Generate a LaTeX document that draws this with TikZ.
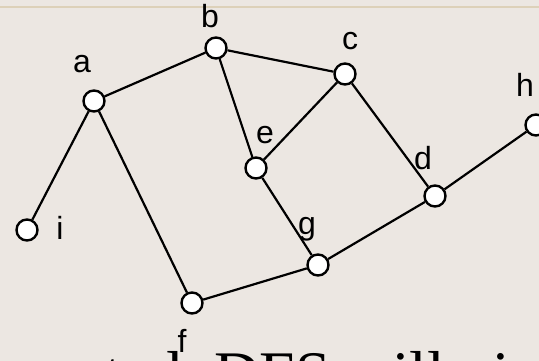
\documentclass[tikz,border=0pt]{standalone}
\usepackage{fontspec}
\setmainfont{Liberation Serif}
\newfontfamily\labelfont{Liberation Sans}
\usepackage{xcolor}
\usetikzlibrary{positioning}
\definecolor{Slide}{HTML}{ECE7E2}
\definecolor{Rule}{HTML}{DDD1B9}

\begin{document}
\begin{tikzpicture}[
  x=1pt,y=-1pt,
  vertex/.style={circle,draw=black,fill=white,line width=2.4pt,minimum size=21pt,inner sep=0pt},
  vlabel/.style={anchor=base,inner sep=0pt,font=\labelfont\fontsize{32}{32}\selectfont},
  link/.style={line width=2.2pt,draw=black}
]
\useasboundingbox (0,0) rectangle (539,361);
\clip (0,0) rectangle (539,361);
\fill[Slide] (0,0) rectangle (539,361);
\draw[Rule,line width=2pt] (0,7) -- (539,7);
% vertices
\node[vertex] (a) at (94,101) {};
\node[vertex] (b) at (216,48) {};
\node[vertex] (c) at (345,74) {};
\node[vertex] (d) at (435,196) {};
\node[vertex] (e) at (256,168) {};
\node[vertex] (f) at (192,303) {};
\node[vertex] (g) at (318,265) {};
\node[vertex] (h) at (536,125) {};
\node[vertex] (i) at (27,230) {};
% labels
\node[vlabel] (la) at (82,73) {a};
\node[vlabel] (lb) at (210,28) {b};
\node[vlabel] (lc) at (350,50) {c};
\node[vlabel] (ld) at (423,170) {d};
\node[vlabel] (le) at (265,143) {e};
\node[vlabel] (lf) at (182,352) {f};
\node[vlabel] (lg) at (307,234) {g};
\node[vlabel] (lh) at (525,97) {h};
\node[vlabel] (li) at (60,240) {i};
\foreach \x/\y in {a/b,b/c,b/e,c/e,c/d,a/i,a/f,e/g,f/g,g/d,d/h} \draw[link] (\x) -- (\y);
% caption line, cut by the frame
\node[anchor=base west,inner sep=0pt,font=\fontsize{63.5}{70}\selectfont] (caption) at (27,395) {sorted, DFS will visit};
\end{tikzpicture}
\end{document}
